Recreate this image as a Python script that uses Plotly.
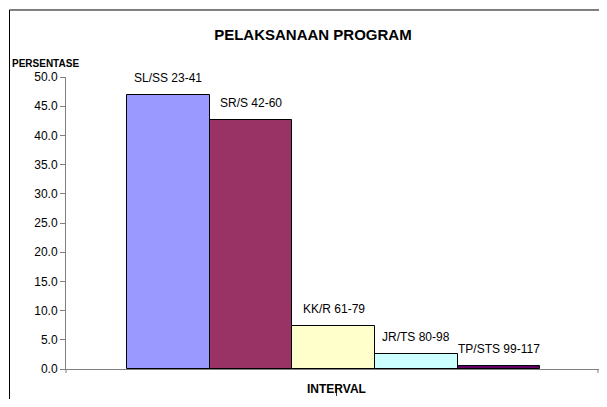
import plotly.graph_objects as go

# ---------- data ----------
categories = ["SL/SS 23-41", "SR/S 42-60", "KK/R 61-79", "JR/TS 80-98", "TP/STS 99-117"]
percentages = [46.9, 42.7, 7.3, 2.5, 0.6]
bar_colors = ["#9999FF", "#993366", "#FFFFCC", "#CCFFFF", "#660066"]
y_tick_values = [0, 5, 10, 15, 20, 25, 30, 35, 40, 45, 50]
y_tick_labels = ["0.0", "5.0", "10.0", "15.0", "20.0", "25.0", "30.0", "35.0", "40.0", "45.0", "50.0"]

FONT = "Arial, Liberation Sans, sans-serif"
AXIS_GREY = "#808080"

# x range padded so the bars sit inside the single "INTERVAL" slot like Excel's clustered column
x_lo, x_hi = -1.24, 5.21

fig = go.Figure()
fig.add_trace(go.Bar(
    x=categories, y=percentages,
    marker=dict(color=bar_colors, line=dict(color="black", width=1)),
    showlegend=False, hoverinfo="skip",
))

# series names above each bar
annotations = [
    dict(x=c, y=v, xref="x", yref="y", text=c, showarrow=False,
         yanchor="bottom", yshift=8, font=dict(family=FONT, size=12, color="black"))
    for c, v in zip(categories, percentages)
]
annotations += [
    dict(x=-0.038, y=1.047, xref="paper", yref="paper", text="<b>PERSENTASE</b>",
         showarrow=False, xanchor="center", yanchor="middle",
         font=dict(family=FONT, size=10, color="black")),
    dict(x=0.5, y=0, xref="paper", yref="paper", text="<b>INTERVAL</b>",
         showarrow=False, xanchor="center", yanchor="top", yshift=-11, xshift=4,
         font=dict(family=FONT, size=12, color="black")),
]

shapes = [
    # chart-area border: only the top and left edges fall inside the page
    dict(type="line", xref="paper", yref="paper", x0=-0.106, x1=1.05, y0=1.2295, y1=1.2295,
         line=dict(color="black", width=1)),
    dict(type="line", xref="paper", yref="paper", x0=-0.106, x1=-0.106, y0=-0.3, y1=1.2295,
         line=dict(color="black", width=1)),
    # category-boundary ticks at both ends of the x axis
    dict(type="line", xref="paper", yref="paper", x0=0, x1=0, y0=0, y1=-0.014,
         line=dict(color=AXIS_GREY, width=1)),
    dict(type="line", xref="paper", yref="paper", x0=0.998, x1=0.998, y0=0, y1=-0.014,
         line=dict(color=AXIS_GREY, width=1)),
    # small tick under the category label
    dict(type="line", xref="paper", yref="paper", x0=0.5075, x1=0.5075, y0=-0.058, y1=-0.0925,
         line=dict(color="#333333", width=1)),
]

# page body has an 8px margin, so the figure is shrunk and shifted to avoid scrolling
fig.update_layout(
    width=591, height=391,
    margin=dict(l=58, r=0, t=69, b=30, autoexpand=False),
    paper_bgcolor="white", plot_bgcolor="white",
    bargap=0, barmode="group",
    title=dict(text="<b>PELAKSANAAN PROGRAM</b>", x=0.516, xref="container", xanchor="center",
               y=0.9327, yref="container", yanchor="middle",
               font=dict(family=FONT, size=15, color="black")),
    font=dict(family=FONT, size=12, color="black"),
    annotations=annotations,
    shapes=shapes,
)
fig.update_xaxes(
    type="category", range=[x_lo, x_hi], showgrid=False, zeroline=False,
    showline=True, linecolor=AXIS_GREY, linewidth=1,
    ticks="", showticklabels=False,
)
fig.update_yaxes(
    range=[0, 50], showgrid=False, zeroline=False,
    showline=True, linecolor=AXIS_GREY, linewidth=1,
    ticks="outside", ticklen=5, tickcolor=AXIS_GREY, tickwidth=1,
    tickmode="array", tickvals=y_tick_values, ticktext=y_tick_labels,
    tickfont=dict(family=FONT, size=12, color="black"),
)

fig.write_html("out.html")
